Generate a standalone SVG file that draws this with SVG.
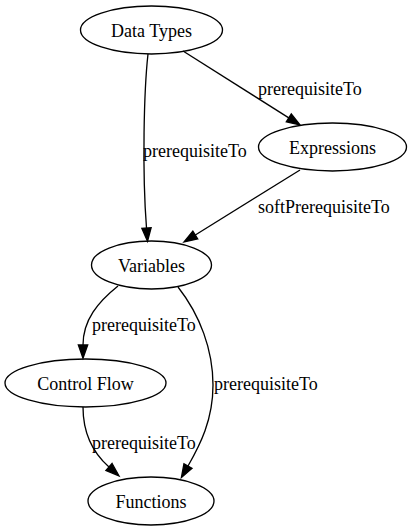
<svg xmlns="http://www.w3.org/2000/svg" width="412" height="531" viewBox="0 0 412 531">
<style>
.node ellipse{fill:none;stroke:#000;stroke-width:1.33}
.node text{font-family:"Liberation Serif","Times New Roman",serif;font-size:18px;text-anchor:middle;fill:#000}
.edges path{fill:none;stroke:#000;stroke-width:1.33;marker-end:url(#arrow)}
.edges text{font-family:"Liberation Serif","Times New Roman",serif;font-size:18px;fill:#000}
</style>
<defs>
<marker id="arrow" markerUnits="userSpaceOnUse" markerWidth="16" markerHeight="12" refX="0" refY="4.67" orient="auto" overflow="visible">
<path d="M0,0 L13.3,4.67 L0,9.33 z" fill="#000" stroke="#000" stroke-width="1.33"/>
</marker>
</defs>
<rect width="412" height="531" fill="#fff"/>
<g id="edges" class="edges">
<path d="M148,54 C144,90 142,170 146.5,228"/>
<text x="143" y="157">prerequisiteTo</text>
<path d="M183,51 L288.8,117.9"/>
<text x="258" y="95">prerequisiteTo</text>
<path d="M300,170 L195.3,235"/>
<text x="258" y="213">softPrerequisiteTo</text>
<path d="M118,286 C98,302 83,320 83,345"/>
<text x="92" y="331">prerequisiteTo</text>
<path d="M178,287 C200,315 213,350 213,385 C213,420 200,445 188,466"/>
<text x="214" y="390">prerequisiteTo</text>
<path d="M83,407 C83,432 92,452 109,467"/>
<text x="92" y="449">prerequisiteTo</text>
</g>
<g id="node-datatypes" class="node"><ellipse cx="151.5" cy="30" rx="71" ry="24"/><text x="151.5" y="36.5">Data Types</text></g>
<g id="node-expressions" class="node"><ellipse cx="332.5" cy="147" rx="74" ry="24"/><text x="332.5" y="153.5">Expressions</text></g>
<g id="node-variables" class="node"><ellipse cx="151.5" cy="265" rx="60" ry="24"/><text x="151.5" y="271.5">Variables</text></g>
<g id="node-controlflow" class="node"><ellipse cx="85.5" cy="383" rx="80.5" ry="24"/><text x="85.5" y="389.5">Control Flow</text></g>
<g id="node-functions" class="node"><ellipse cx="151" cy="501" rx="63" ry="24"/><text x="151" y="507.5">Functions</text></g>
</svg>
